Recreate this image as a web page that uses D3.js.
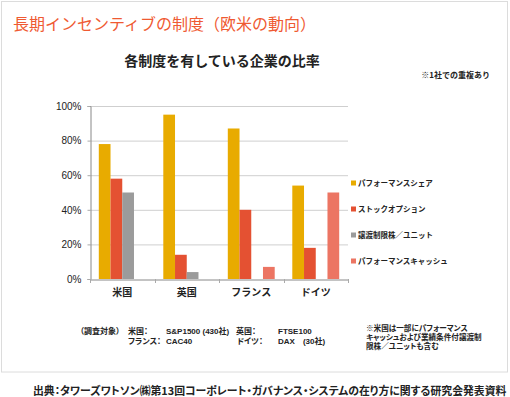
<!DOCTYPE html>
<html>
<head>
<meta charset="utf-8">
<script src="https://d3js.org/d3.v7.min.js"></script>
<style>
  body { margin: 0; background: #fff; overflow: hidden; }
  text { font-family: 'Liberation Sans', Arial, 'Noto Sans CJK JP', sans-serif; fill: #222; }
  .jp { font-family: 'Noto Sans CJK JP', sans-serif; }
  .palt { font-feature-settings: 'palt' 1; }
</style>
</head>
<body>
<script>
const categories = ['米国', '英国', 'フランス', 'ドイツ'];
const seriesNames = ['パフォーマンスシェア', 'ストックオプション', '譲渡制限株／ユニット', 'パフォーマンスキャッシュ'];
const seriesColors = ['#e8ab00', '#e45132', '#9b9b9b', '#ec7563'];
// values in %, one array per series, in category order
const perfShare = [78, 95, 87, 54];
const stockOption = [58, 14, 40, 18];
const restricted = [50, 4, 0, 0];
const perfCash = [0, 0, 7, 50];
const seriesValues = [perfShare, stockOption, restricted, perfCash];
const yTicks = [0, 20, 40, 60, 80, 100];

const width = 510, height = 397;
const svg = d3.select('body').append('svg').attr('width', width).attr('height', height);

// frame
svg.append('rect').attr('x', 1.5).attr('y', 1.5).attr('width', 506).attr('height', 370.5)
  .attr('fill', 'none').attr('stroke', '#dcdcdc');

svg.append('text').attr('class', 'jp').attr('x', 13).attr('y', 30)
  .style('font-size', '16px').style('fill', '#ef5a32')
  .text('長期インセンティブの制度（欧米の動向）');

svg.append('text').attr('class', 'jp').attr('x', 222).attr('y', 66).attr('text-anchor', 'middle')
  .style('font-size', '14px').style('font-weight', 'bold').style('fill', '#222')
  .text('各制度を有している企業の比率');

svg.append('text').attr('class', 'jp').attr('x', 490).attr('y', 78).attr('text-anchor', 'end')
  .style('font-size', '8px').style('font-weight', 'bold')
  .text('※1社での重複あり');

const plotL = 90, plotR = 348, plotT = 106, plotB = 279;
const x0 = d3.scaleBand().domain(categories).range([plotL, plotR]).padding(0);
const x1 = d3.scaleBand().domain(seriesNames).range([0, x0.bandwidth()]).paddingInner(0).paddingOuter(0.75);
const y = d3.scaleLinear().domain([0, 100]).range([plotB, plotT]);

// gridlines
svg.append('g').selectAll('line').data(yTicks.filter(d => d > 0)).join('line')
  .attr('x1', plotL).attr('x2', plotR).attr('y1', d => y(d) + 0.5).attr('y2', d => y(d) + 0.5)
  .attr('stroke', '#cfcfcf');

const yAxis = svg.append('g').attr('transform', `translate(${plotL + 0.5},0)`)
  .call(d3.axisLeft(y).tickValues(yTicks).tickFormat(d => d + '%').tickSize(3).tickPadding(6));
yAxis.select('.domain').attr('stroke', '#888');
yAxis.selectAll('.tick line').attr('stroke', '#aaa');
yAxis.selectAll('.tick text').style('font-size', '10px').style('fill', '#222')
  .style('font-family', "'Liberation Sans', Arial, sans-serif");

// bars
const groups = svg.append('g').selectAll('g').data(categories).join('g')
  .attr('transform', d => `translate(${x0(d)},0)`);
groups.selectAll('rect')
  .data((c, ci) => seriesNames.map((s, si) => ({ s, si, v: seriesValues[si][ci] })).filter(d => d.v > 0))
  .join('rect')
  .attr('x', d => x1(d.s))
  .attr('width', x1.bandwidth())
  .attr('y', d => y(d.v))
  .attr('height', d => y(0) - y(d.v))
  .attr('fill', d => seriesColors[d.si]);

// x axis
const xAxis = svg.append('g').attr('transform', `translate(0,${plotB + 0.5})`)
  .call(d3.axisBottom(x0).tickSize(0).tickPadding(9).tickSizeOuter(0));
xAxis.select('.domain').attr('stroke', '#888');
xAxis.selectAll('.tick text').attr('class', 'jp').style('font-size', '10px').style('font-weight', 'bold')
  .style('fill', '#222');
svg.append('g').selectAll('line')
  .data(categories.map(c => x0(c)).concat([plotR]))
  .join('line')
  .attr('x1', d => Math.round(d) + 0.5).attr('x2', d => Math.round(d) + 0.5)
  .attr('y1', plotB).attr('y2', plotB + 4)
  .attr('stroke', '#aaa');

// legend
const legend = svg.append('g').selectAll('g').data(seriesNames).join('g')
  .attr('transform', (d, i) => `translate(351,${183 + i * 26})`);
legend.append('rect').attr('x', 0).attr('y', -2.5).attr('width', 5).attr('height', 5)
  .attr('fill', (d, i) => seriesColors[i]);
legend.append('text').attr('class', 'jp').attr('x', 7).attr('y', 3)
  .style('font-size', '7.5px').style('font-weight', 'bold').text(d => d);

// notes
const notes = [
  { x: 80, y: 334, t: '（調査対象）' },
  { x: 128, y: 334, t: '米国：' },
  { x: 166, y: 334, t: 'S&P1500 (430社)' },
  { x: 236, y: 334, t: '英国：' },
  { x: 278, y: 334, t: 'FTSE100' },
  { x: 128, y: 343.5, t: 'フランス：' },
  { x: 166, y: 343.5, t: 'CAC40' },
  { x: 237, y: 343.5, t: 'ドイツ：' },
  { x: 278, y: 343.5, t: 'DAX　(30社)' },
  { x: 366, y: 331, t: '※米国は一部にパフォーマンス' },
  { x: 366, y: 340, t: 'キャッシュおよび業績条件付譲渡制' },
  { x: 366, y: 349, t: '限株／ユニットも含む' }
];
svg.append('g').selectAll('text').data(notes).join('text')
  .attr('class', 'palt')
  .attr('x', d => d.x).attr('y', d => d.y)
  .style('font-size', d => d.x > 300 ? '7.6px' : '8px').style('font-weight', 'bold')
  .text(d => d.t);

const source = svg.append('text').attr('class', 'jp palt').attr('x', 33).attr('y', 395)
  .style('font-size', '10.5px').style('font-weight', 'bold')
  .text('出典：タワーズワトソン㈱第13回コーポレート・ガバナンス・システムの在り方に関する研究会発表資料');
// size so it spans the same width as in the reference
const srcLen = source.node().getComputedTextLength();
source.style('font-size', Math.min(11, 10.5 * 474 / srcLen) + 'px');
</script>
</body>
</html>
